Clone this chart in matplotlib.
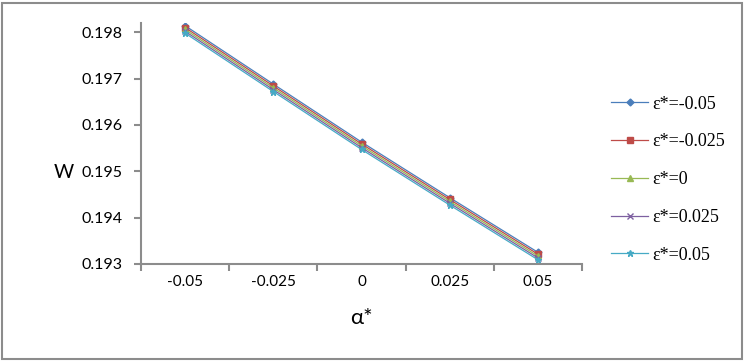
import numpy as np
import matplotlib
matplotlib.use("Agg")
import matplotlib.pyplot as plt
from matplotlib.patches import Rectangle

# 数据
alpha_labels = ["-0.05", "-0.025", "0", "0.025", "0.05"]
eps_labels = ["ε*=-0.05", "ε*=-0.025", "ε*=0", "ε*=0.025", "ε*=0.05"]
w_eps_m005 = [0.19814, 0.19688, 0.19563, 0.19443, 0.19325]
w_eps_m0025 = [0.19810, 0.19684, 0.19559, 0.19439, 0.19321]
w_eps_0 = [0.19806, 0.19680, 0.19555, 0.19435, 0.19317]
w_eps_p0025 = [0.19802, 0.19676, 0.19551, 0.19431, 0.19313]
w_eps_p005 = [0.19798, 0.19672, 0.19547, 0.19427, 0.19309]

series = [w_eps_m005, w_eps_m0025, w_eps_0, w_eps_p0025, w_eps_p005]
colors = ["#4A7EBB", "#BE4B48", "#98B954", "#7D60A0", "#46AAC5"]
markers = ["D", "s", "^", "x", "*"]
msizes = [3.5, 4, 4, 4, 4.5]

fig = plt.figure(figsize=(7.5, 3.64), dpi=100)
ax = fig.add_axes([0.188, 0.275, 0.588, 0.662])

x = np.arange(len(alpha_labels))
for vals, c, m, ms, lab in zip(series, colors, markers, msizes, eps_labels):
    ax.plot(x, vals, color=c, marker=m, markersize=ms, linewidth=0.9,
            markeredgewidth=1.0, label=lab)

ax.set_xlim(-0.5, 4.5)
ax.set_ylim(0.193, 0.1982)
ax.set_xticks(x)
ax.set_xticklabels(alpha_labels)
ax.set_xticks(np.arange(-0.5, 5.0, 1.0), minor=True)
ax.set_yticks([0.193, 0.194, 0.195, 0.196, 0.197, 0.198])
ax.set_yticklabels(["0.193", "0.194", "0.195", "0.196", "0.197", "0.198"])

for s in ["top", "right"]:
    ax.spines[s].set_visible(False)
for s in ["left", "bottom"]:
    ax.spines[s].set_color("#8C8C8C")
    ax.spines[s].set_linewidth(1.5)

ax.tick_params(axis="x", which="major", length=0, pad=8, labelsize=11)
ax.tick_params(axis="x", which="minor", length=5, width=1.5, color="#8C8C8C")
ax.tick_params(axis="y", length=5, width=1.5, color="#8C8C8C", labelsize=11.5, pad=8)
for t in ax.get_xticklabels() + ax.get_yticklabels():
    t.set_family(["Lato", "DejaVu Sans"])

ax.set_ylabel("W", rotation=0, fontsize=14, family=["Lato", "DejaVu Sans"], va="center", ha="center")
ax.yaxis.set_label_coords(-0.175, 0.38)
ax.set_xlabel("α*", fontsize=16, family=["Lato", "DejaVu Sans"], labelpad=14)

leg = ax.legend(loc="center left", bbox_to_anchor=(1.03, 0.35), frameon=False,
                prop={"family": ["Liberation Serif", "DejaVu Serif"], "size": 13},
                handlelength=2.0, labelspacing=1.15, handletextpad=0.25)

fig.patches.append(Rectangle((0.003, 0.013), 0.986, 0.98, transform=fig.transFigure,
                             fill=False, edgecolor="#8C8C8C", linewidth=1.5))

fig.savefig("out.png", dpi=100)
